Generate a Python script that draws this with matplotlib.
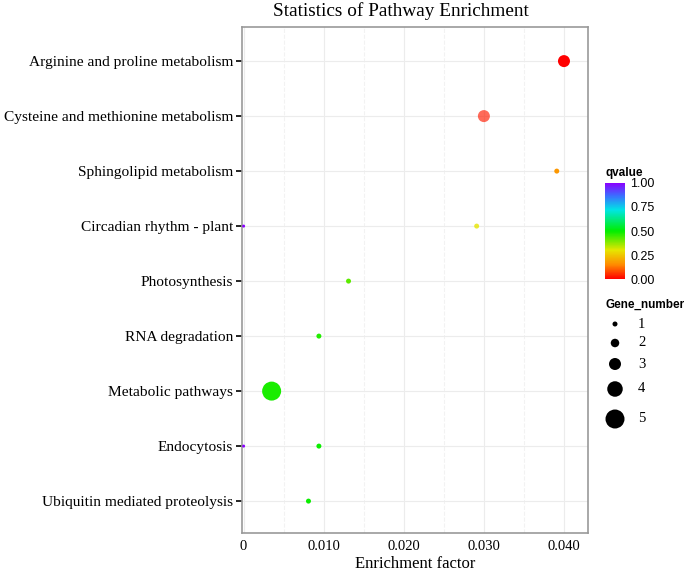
import matplotlib
matplotlib.use("Agg")
import matplotlib.pyplot as plt
from matplotlib.colors import LinearSegmentedColormap, Normalize
import numpy as np

# pathway data, top to bottom
pathways = ["Arginine and proline metabolism",
            "Cysteine and methionine metabolism",
            "Sphingolipid metabolism",
            "Circadian rhythm - plant",
            "Photosynthesis",
            "RNA degradation",
            "Metabolic pathways",
            "Endocytosis",
            "Ubiquitin mediated proteolysis"]
rich_factor = [0.0400, 0.0300, 0.0391, 0.0291, 0.0131, 0.0094, 0.0035, 0.0094, 0.0081]
qvalue = [0.00, 0.03, 0.17, 0.30, 0.42, 0.47, 0.48, 0.49, 0.49]
gene_number = [3, 3, 1, 1, 1, 1, 5, 1, 1]
alpha = [1.0, 0.65, 1.0, 0.8, 1.0, 1.0, 1.0, 1.0, 1.0]

# tiny purple marks sitting on the y axis
zero_rows = ["Circadian rhythm - plant", "Endocytosis"]
zero_q = [1.0, 1.0]

legend_numbers = [1, 2, 3, 4, 5]
q_ticks = [0.00, 0.25, 0.50, 0.75, 1.00]

DPI = 100
W, H = 685, 571

cmap = LinearSegmentedColormap.from_list(
    "qv", [(0.0, "#ff0000"), (0.15, "#ff8c00"), (0.3, "#e6e600"),
           (0.5, "#00ee00"), (0.72, "#00e5e5"), (0.87, "#3c6cff"),
           (1.0, "#8a00ff")])
norm = Normalize(0, 1)


def size_of(n):
    # marker diameter in px -> scatter area in pt^2
    d = 5 + (np.asarray(n) - 1) * 3.5
    return (d * 72.0 / DPI) ** 2


serif = "Liberation Serif"
sans = "Liberation Sans"

fig = plt.figure(figsize=(W / DPI, H / DPI), dpi=DPI)
ax = fig.add_axes([242 / W, 1 - 533 / H, 346 / W, 506 / H])

ypos = np.arange(len(pathways))
cols = cmap(norm(qvalue))
cols[:, 3] = alpha
ax.scatter(rich_factor, ypos, s=size_of(gene_number), c=cols, zorder=3, linewidths=0)

zy = [pathways.index(p) for p in zero_rows]
ax.scatter([0] * len(zy), zy, s=(3 * 72.0 / DPI) ** 2, c=cmap(norm(zero_q)), zorder=4, linewidths=0)

ax.set_xlim(-0.0002, 0.0430)
ax.set_ylim(len(pathways) - 1 + 0.58, -0.62)
ax.set_yticks(ypos)
ax.set_yticklabels(pathways, fontfamily=serif, fontsize=11.1)
ax.set_xticks([0, 0.01, 0.02, 0.03, 0.04])
ax.set_xticklabels(["0", "0.010", "0.020", "0.030", "0.040"], fontfamily=serif, fontsize=10.5)
ax.set_xticks([0.005, 0.015, 0.025, 0.035], minor=True)
ax.tick_params(axis="x", which="both", length=0, pad=5)
ax.tick_params(axis="y", length=4, width=1.2, color="black", pad=2.5)
ax.grid(True, which="major", color="#ececec", lw=0.8, zorder=0)
ax.grid(True, which="minor", axis="x", color="#f2f2f2", lw=0.8, ls="--", zorder=0)
for s in ax.spines.values():
    s.set_color("#999999")
    s.set_linewidth(1.2)
ax.set_xlabel("Enrichment factor", fontfamily=serif, fontsize=12, labelpad=2)

fig.text(401 / W, 1 - 11 / H, "Statistics of Pathway Enrichment", ha="center", va="center",
         fontfamily=serif, fontsize=13.9)

# colour bar for qvalue
cax = fig.add_axes([605 / W, 1 - 281 / H, 20 / W, 100 / H])
sm = plt.cm.ScalarMappable(norm=norm, cmap=cmap)
cb = fig.colorbar(sm, cax=cax, ticks=q_ticks)
cb.outline.set_visible(False)
cb.ax.set_yticklabels(["%.2f" % t for t in q_ticks], fontfamily=sans, fontsize=9)
cb.ax.tick_params(length=0, pad=4)
cax.set_ylim(-0.02, 1.02)
fig.text(605 / W, 1 - 173 / H, "qvalue", ha="left", va="center", fontfamily=sans,
         fontsize=8.5, fontweight="bold")

# size legend for Gene_number
lax = fig.add_axes([0, 0, 1, 1], facecolor="none")
lax.set_xlim(0, W)
lax.set_ylim(H, 0)
lax.axis("off")
fig.text(605 / W, 1 - 305 / H, "Gene_number", ha="left", va="center", fontfamily=sans,
         fontsize=8.5, fontweight="bold")
leg_y = [324, 343, 364, 389, 419]
lax.scatter([615] * len(legend_numbers), leg_y, s=size_of(legend_numbers), c="black", linewidths=0)
for n, yy in zip(legend_numbers, leg_y):
    lax.text(638, yy, str(n), ha="left", va="center", fontfamily=serif, fontsize=10.5)

fig.savefig("out.png", dpi=DPI)
